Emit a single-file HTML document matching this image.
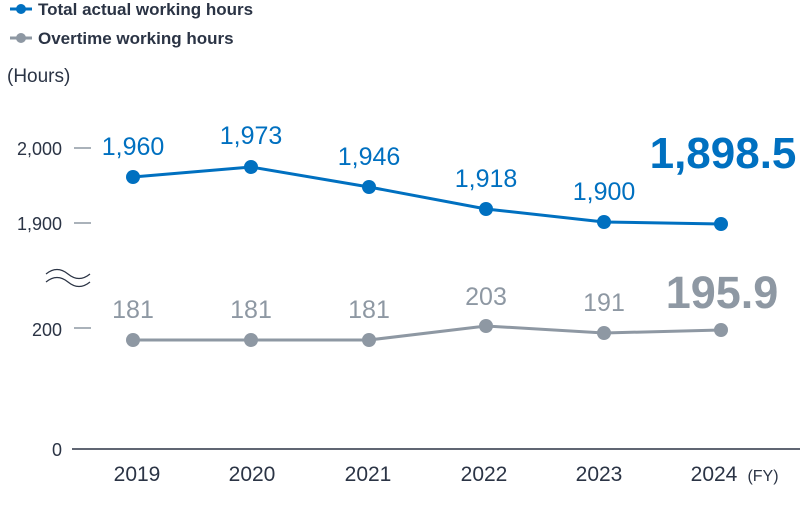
<!DOCTYPE html><html><head><style>body{margin:0;background:#fff}svg{display:block}text{font-family:"Liberation Sans",sans-serif}</style></head><body>
<svg width="800" height="507" viewBox="0 0 800 507">
<g font-size="17" fill="#2b3445">
<line x1="10" y1="9" x2="32" y2="9" stroke="#0070c0" stroke-width="3"/><circle cx="21" cy="9" r="5" fill="#0070c0"/>
<text x="38" y="15" font-weight="bold">Total actual working hours</text>
<line x1="10" y1="38" x2="32" y2="38" stroke="#8e98a3" stroke-width="3"/><circle cx="21" cy="38" r="5" fill="#8e98a3"/>
<text x="38" y="44" font-weight="bold">Overtime working hours</text>
<text x="7" y="82" font-size="19">(Hours)</text>
</g>
<g font-size="18" fill="#2b3445" text-anchor="end">
<text x="62" y="155">2,000</text><text x="62" y="230">1,900</text><text x="62" y="336">200</text><text x="62" y="456">0</text>
</g>
<g stroke="#8e98a3" stroke-width="1.5">
<line x1="74" y1="148" x2="91" y2="148"/><line x1="74" y1="223" x2="91" y2="223"/><line x1="74" y1="328" x2="91" y2="328"/>
</g>
<path d="M46 274 q11 -9 22 0 t22 0 M46 282 q11 -9 22 0 t22 0" fill="none" stroke="#2b3445" stroke-width="1.2"/>
<line x1="72" y1="449" x2="800" y2="449" stroke="#2b3445" stroke-width="1.5"/>
<polyline points="133,177 251,167 369,187 486,209 604,222 721,224" fill="none" stroke="#0070c0" stroke-width="3"/>
<polyline points="133,340 251,340 369,340 486,326 604,333 721,330" fill="none" stroke="#8e98a3" stroke-width="3"/>
<g fill="#0070c0"><circle cx="133" cy="177" r="7"/><circle cx="251" cy="167" r="7"/><circle cx="369" cy="187" r="7"/><circle cx="486" cy="209" r="7"/><circle cx="604" cy="222" r="7"/><circle cx="721" cy="224" r="7"/></g>
<g fill="#8e98a3"><circle cx="133" cy="340" r="7"/><circle cx="251" cy="340" r="7"/><circle cx="369" cy="340" r="7"/><circle cx="486" cy="326" r="7"/><circle cx="604" cy="333" r="7"/><circle cx="721" cy="330" r="7"/></g>
<g font-size="25" fill="#0070c0" text-anchor="middle">
<text x="133" y="155">1,960</text><text x="251" y="144">1,973</text><text x="369" y="165">1,946</text><text x="486" y="187">1,918</text><text x="604" y="200">1,900</text>
<text x="723" y="168" font-size="44" font-weight="bold">1,898.5</text>
</g>
<g font-size="25" fill="#8e98a3" text-anchor="middle">
<text x="133" y="318">181</text><text x="251" y="318">181</text><text x="369" y="318">181</text><text x="486" y="305">203</text><text x="604" y="311">191</text>
<text x="722" y="308" font-size="45" font-weight="bold">195.9</text>
</g>
<g font-size="21" fill="#2b3445" text-anchor="middle">
<text x="137" y="481">2019</text><text x="252" y="481">2020</text><text x="368" y="481">2021</text><text x="484" y="481">2022</text><text x="599" y="481">2023</text><text x="714" y="481">2024</text>
<text x="763" y="481" font-size="16">(FY)</text>
</g>
</svg></body></html>
